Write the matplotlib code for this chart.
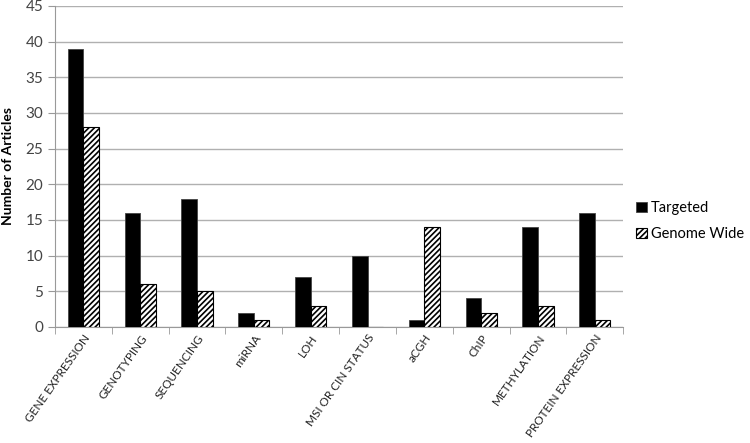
import numpy as np
import matplotlib.pyplot as plt
from matplotlib.ticker import MultipleLocator, FixedLocator

plt.rcParams['font.family'] = ['Lato', 'DejaVu Sans']
plt.rcParams['hatch.linewidth'] = 1.2

categories = ['GENE EXPRESSION', 'GENOTYPING', 'SEQUENCING', 'miRNA', 'LOH',
              'MSI OR CIN STATUS', 'aCGH', 'ChIP', 'METHYLATION', 'PROTEIN EXPRESSION']
targeted = [39, 16, 18, 2, 7, 10, 1, 4, 14, 16]
genome_wide = [28, 6, 5, 1, 3, 0, 14, 2, 3, 1]

fig = plt.figure(figsize=(7.5, 4.43), dpi=100)
ax = fig.add_axes([0.0733, 0.262, 0.7577, 0.7245])

x = np.arange(len(categories))
w = 0.275
ax.bar(x - w / 2, targeted, w, color='black', edgecolor='#444444', linewidth=0.6,
       label='Targeted', zorder=3)
ax.bar(x + w / 2, genome_wide, w, color='white', edgecolor='black', hatch='//////',
       linewidth=0.8, label='Genome Wide', zorder=3)

ax.set_xlim(-0.5, len(categories) - 0.5)
ax.set_ylim(0, 45)
ax.yaxis.set_major_locator(MultipleLocator(5))
ax.yaxis.grid(True, color='#b0b0b0', linewidth=1)
ax.set_axisbelow(True)

ax.set_xticks(x)
ax.set_xticklabels(categories, rotation=55, ha='right', rotation_mode='anchor',
                   fontsize=8.5, color='#222222')
ax.tick_params(axis='x', which='major', length=0, pad=4)
ax.xaxis.set_minor_locator(FixedLocator(np.arange(-0.5, len(categories), 1)))
ax.tick_params(axis='x', which='minor', length=5, color='#999999')
ax.tick_params(axis='y', length=5, color='#999999', labelsize=11, labelcolor='#444444')

for s in ['top', 'right']:
    ax.spines[s].set_visible(False)
ax.spines['left'].set_color('#999999')
ax.spines['bottom'].set_color('#999999')

ax.set_ylabel('Number of Articles', fontsize=10, fontweight='bold', labelpad=8)

ax.legend(loc='center left', bbox_to_anchor=(1.0, 0.33), frameon=False,
          fontsize=10.5, handlelength=0.7, handleheight=0.7, handletextpad=0.3,
          labelspacing=0.8)

fig.savefig('out.png', dpi=100)
